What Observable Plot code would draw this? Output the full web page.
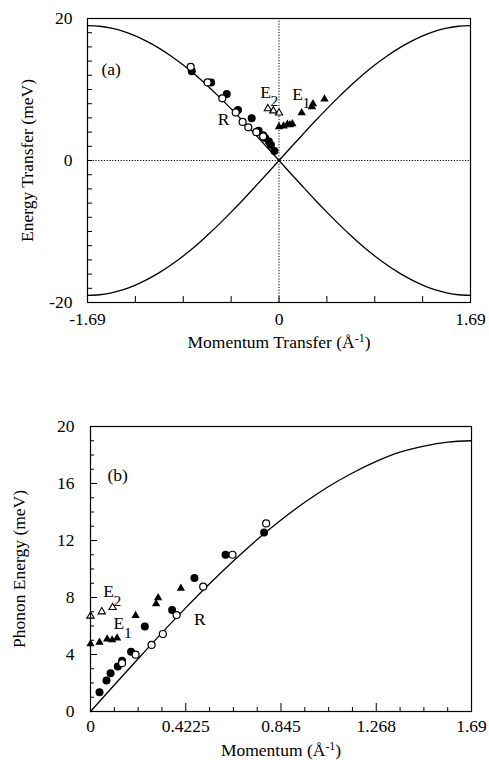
<!DOCTYPE html>
<html>
<head>
<meta charset="utf-8">
<script src="https://cdn.jsdelivr.net/npm/d3@7"></script>
<script src="https://cdn.jsdelivr.net/npm/@observablehq/plot@0.6"></script>
<style>
  body { margin: 0; background: #fff; }
  #chart { position: relative; width: 489px; height: 760px; background: #fff; }
  #chart svg { position: absolute; left: 0; font-family: "Liberation Serif", "Times New Roman", Times, serif !important; }
  #chart svg text, #chart svg g { font-family: "Liberation Serif", "Times New Roman", Times, serif !important; }
</style>
</head>
<body>
<div id="chart"></div>
<script>
// Acoustic branch dispersion curve: momentum (Å^-1) vs energy (meV), zone boundary at 1.69
const curveQ = [0, 0.105625, 0.21125, 0.316875, 0.4225, 0.528125, 0.63375, 0.739375, 0.845,
                0.950625, 1.05625, 1.161875, 1.2675, 1.373125, 1.47875, 1.584375, 1.69];
const curveE = [0, 1.86, 3.7, 5.52, 7.27, 8.96, 10.56, 12.07, 13.44,
                14.68, 15.79, 16.74, 17.55, 18.2, 18.63, 18.91, 19.0];

// R branch, filled circles
const rFilledQ = [0.040, 0.071, 0.089, 0.121, 0.140, 0.180, 0.241, 0.362, 0.461, 0.599, 0.770];
const rFilledE = [1.35, 2.17, 2.69, 3.16, 3.57, 4.20, 5.96, 7.12, 9.37, 11.0, 12.57];

// R branch, open circles
const rOpenQ = [0.140, 0.200, 0.271, 0.321, 0.382, 0.500, 0.630, 0.779];
const rOpenE = [3.39, 3.99, 4.67, 5.44, 6.77, 8.76, 11.0, 13.2];

// E1 branch, filled triangles
const e1Q = [0, 0.040, 0.074, 0.096, 0.118, 0.200, 0.291, 0.300, 0.401];
const e1E = [4.74, 4.86, 5.09, 5.02, 5.16, 6.73, 7.55, 7.97, 8.64];

// E2 branch, open triangles
const e2Q = [0, 0.050, 0.098];
const e2E = [6.70, 7.00, 7.30];

// Axis ticks and their labels
const aXTicks = [-1.69, 0, 1.69];
const aXTickLabels = ["-1.69", "0", "1.69"];
const aYTicks = [-20, 0, 20];
const aYTickLabels = ["-20", "0", "20"];
const bXTicks = [0, 0.4225, 0.845, 1.2675, 1.69];
const bXTickLabels = ["0", "0.4225", "0.845", "1.268", "1.69"];
const bYTicks = [0, 4, 8, 12, 16, 20];
const bYTickLabels = ["0", "4", "8", "12", "16", "20"];

const W = 489;
const FONT = "Liberation Serif, Times New Roman, Times, serif";
const FS = 17.5;

const pts = (qs, es, sign = 1) => qs.map((q, i) => ({q: sign * q, e: es[i]}));
const labelMap = (vals, labels) => {
  const m = new Map(vals.map((v, i) => [v, labels[i]]));
  return (d) => m.get(d) ?? "";
};

// superscript "-1" after Å in axis titles
function superscriptUnits(svg) {
  d3.select(svg).selectAll("text").each(function () {
    const t = d3.select(this);
    const s = t.text();
    if (!s.includes("Å-1")) return;
    const [pre, post] = s.split("Å-1");
    t.text(null);
    t.append("tspan").text(pre + "Å");
    t.append("tspan").attr("dy", -6).attr("font-size", "0.68em").text("-1");
    t.append("tspan").attr("dy", 6).text(post);
  });
}

// branch label: letter E with a lowered index
function subscriptLabel(data, sub) {
  return [
    Plot.text(data, {x: "q", y: "e", text: () => "E", fontSize: FS}),
    Plot.text(data, {x: "q", y: "e", text: () => sub, fontSize: FS - 2, textAnchor: "start", dx: 5, dy: 9})
  ];
}

function seriesMarks(rF, rO, e1, e2) {
  return [
    Plot.dot(rF, {x: "q", y: "e", r: 4, fill: "black", stroke: "none"}),
    Plot.dot(rO, {x: "q", y: "e", r: 3.5, fill: "white", stroke: "black", strokeWidth: 1.2}),
    Plot.dot(e1, {x: "q", y: "e", symbol: "triangle", r: 3.1, fill: "black", stroke: "none"}),
    Plot.dot(e2, {x: "q", y: "e", symbol: "triangle", r: 2.7, fill: "white", stroke: "black", strokeWidth: 1.1})
  ];
}

const baseStyle = {fontFamily: FONT, fontSize: `${FS}px`, color: "black", background: "white", overflow: "visible"};

// ---------- panel (a): energy transfer vs momentum transfer ----------
{
  const H = 380, mt = 18, mb = 78, ml = 87, mr = 19;
  const pw = W - ml - mr, ph = H - mt - mb;
  const half = pts(curveQ, curveE);
  const rise = [...half.slice(1).reverse().map(d => ({q: -d.q, e: -d.e})), ...half];
  const fall = rise.map(d => ({q: d.q, e: -d.e}));

  const svg = Plot.plot({
    width: W, height: H,
    marginTop: mt, marginBottom: mb, marginLeft: ml, marginRight: mr,
    style: baseStyle,
    x: {domain: [-1.69, 1.69]},
    y: {domain: [-20, 20]},
    marks: [
      Plot.ruleX([0], {stroke: "black", strokeWidth: 1, strokeDasharray: "1.2,1.6"}),
      Plot.ruleY([0], {stroke: "black", strokeWidth: 1, strokeDasharray: "1.2,1.6"}),
      Plot.line(rise, {x: "q", y: "e", curve: "natural", stroke: "black", strokeWidth: 1.3}),
      Plot.line(fall, {x: "q", y: "e", curve: "natural", stroke: "black", strokeWidth: 1.3}),
      ...seriesMarks(pts(rFilledQ, rFilledE, -1), pts(rOpenQ, rOpenE, -1), pts(e1Q, e1E), pts(e2Q, e2E, -1)),
      // inward ticks
      Plot.ruleX(d3.range(-4, 5).map(k => k * 0.4225), {x: d => d, insetTop: ph - 6, stroke: "black"}),
      Plot.ruleY(d3.range(-10, 11).map(k => k * 2), {y: d => d, insetRight: pw - 5, stroke: "black"}),
      Plot.axisX(aXTicks, {tickSize: 0, tickPadding: 10, tickFormat: labelMap(aXTicks, aXTickLabels),
        label: "Momentum Transfer (Å-1)", labelAnchor: "center", labelOffset: 45, labelArrow: "none"}),
      Plot.axisY(aYTicks, {tickSize: 0, tickPadding: 15, tickFormat: labelMap(aYTicks, aYTickLabels),
        label: "Energy Transfer (meV)", labelAnchor: "center", labelOffset: 67, labelArrow: "none"}),
      Plot.text(["(a)"], {frameAnchor: "top-left", text: d => d, dx: 14, dy: 44, textAnchor: "start", fontSize: FS}),
      Plot.text([{q: -0.49, e: 5.8}], {x: "q", y: "e", text: () => "R", fontSize: FS}),
      ...subscriptLabel([{q: -0.119, e: 9.65}], "2"),
      ...subscriptLabel([{q: 0.163, e: 9.36}], "1"),
      Plot.frame({stroke: "black", strokeWidth: 1.2})
    ]
  });
  svg.style.top = "0px";
  superscriptUnits(svg);
  document.getElementById("chart").append(svg);
}

// ---------- panel (b): phonon energy vs momentum ----------
{
  const H = 380, mt = 46, mb = 49, ml = 90, mr = 18;
  const pw = W - ml - mr, ph = H - mt - mb;
  const xMinor = d3.range(0, 17).map(k => k * 0.105625);
  const svg = Plot.plot({
    width: W, height: H,
    marginTop: mt, marginBottom: mb, marginLeft: ml, marginRight: mr,
    style: baseStyle,
    x: {domain: [0, 1.69]},
    y: {domain: [0, 20]},
    marks: [
      Plot.line(pts(curveQ, curveE), {x: "q", y: "e", curve: "natural", stroke: "black", strokeWidth: 1.3}),
      ...seriesMarks(pts(rFilledQ, rFilledE), pts(rOpenQ, rOpenE), pts(e1Q, e1E), pts(e2Q, e2E)),
      // inward ticks: long at labelled values, short in between
      Plot.ruleX(xMinor.filter((d, i) => i % 4 !== 0), {x: d => d, insetTop: ph - 4, stroke: "black"}),
      Plot.ruleX(bXTicks, {x: d => d, insetTop: ph - 8, stroke: "black"}),
      Plot.ruleY(d3.range(0, 21).filter(d => d % 4 !== 0), {y: d => d, insetRight: pw - 4, stroke: "black"}),
      Plot.ruleY(bYTicks, {y: d => d, insetRight: pw - 7, stroke: "black"}),
      Plot.axisX(bXTicks, {tickSize: 0, tickPadding: 8, tickFormat: labelMap(bXTicks, bXTickLabels),
        label: "Momentum (Å-1)", labelAnchor: "center", labelOffset: 44, labelArrow: "none"}),
      Plot.axisY(bYTicks, {tickSize: 0, tickPadding: 16, tickFormat: labelMap(bYTicks, bYTickLabels),
        label: "Phonon Energy (meV)", labelAnchor: "center", labelOffset: 78, labelArrow: "none"}),
      Plot.text(["(b)"], {frameAnchor: "top-left", text: d => d, dx: 17, dy: 42, textAnchor: "start", fontSize: FS}),
      Plot.text([{q: 0.485, e: 6.43}], {x: "q", y: "e", text: () => "R", fontSize: FS}),
      ...subscriptLabel([{q: 0.08, e: 8.41}], "2"),
      ...subscriptLabel([{q: 0.126, e: 6.15}], "1"),
      Plot.frame({stroke: "black", strokeWidth: 1.2})
    ]
  });
  svg.style.top = "380px";
  superscriptUnits(svg);
  document.getElementById("chart").append(svg);
}
</script>
</body>
</html>
